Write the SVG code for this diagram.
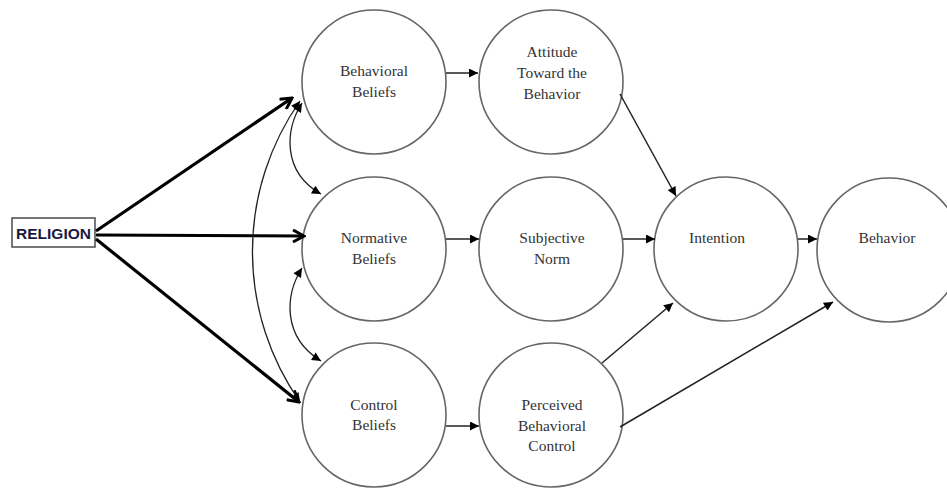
<svg xmlns="http://www.w3.org/2000/svg" width="947" height="489" viewBox="0 0 947 489">
<style>
.c{fill:#fff;stroke:#666;stroke-width:1.6}
.t{font-family:"Liberation Serif","Times New Roman",serif;font-size:15.5px;fill:#333;text-anchor:middle}
.th{stroke:#000;stroke-width:3.2;fill:none;marker-end:url(#open)}
.tn{stroke:#222;stroke-width:1.5;fill:none;marker-end:url(#arr)}
.cv{stroke:#222;stroke-width:1.3;fill:none;marker-start:url(#arr);marker-end:url(#arr)}
</style>
<defs>
<marker id="open" viewBox="0 0 14 14" refX="12" refY="7" markerWidth="14" markerHeight="14" markerUnits="userSpaceOnUse" orient="auto"><path d="M1,1 L12,7 L1,13" fill="none" stroke="#000" stroke-width="3"/></marker>
<marker id="arr" viewBox="0 0 10 10" refX="10" refY="5" markerWidth="11" markerHeight="9" markerUnits="userSpaceOnUse" orient="auto-start-reverse"><path d="M0,0 L10,5 L0,10 z" fill="#000"/></marker>
</defs>
<rect width="947" height="489" fill="#fff"/>
<g id="religion">
<rect x="12" y="218" width="83" height="29" fill="#fff" stroke="#555" stroke-width="1.6"/>
<text x="53.5" y="238.5" font-family="'Liberation Sans',Arial,sans-serif" font-weight="bold" font-size="15px" fill="#1a1a40" text-anchor="middle" textLength="75" lengthAdjust="spacingAndGlyphs">RELIGION</text>
</g>
<g id="behavioral-beliefs"><circle class="c" cx="374" cy="82" r="72"/><text class="t" x="374" y="76">Behavioral</text><text class="t" x="374" y="97">Beliefs</text></g>
<g id="attitude"><circle class="c" cx="551" cy="82" r="72"/><text class="t" x="552" y="57">Attitude</text><text class="t" x="552" y="78">Toward the</text><text class="t" x="552" y="99">Behavior</text></g>
<g id="normative-beliefs"><circle class="c" cx="374" cy="249" r="72"/><text class="t" x="374" y="243">Normative</text><text class="t" x="374" y="264">Beliefs</text></g>
<g id="subjective-norm"><circle class="c" cx="551" cy="249" r="72"/><text class="t" x="552" y="243">Subjective</text><text class="t" x="552" y="264">Norm</text></g>
<g id="control-beliefs"><circle class="c" cx="374" cy="415" r="72"/><text class="t" x="374" y="410">Control</text><text class="t" x="374" y="430">Beliefs</text></g>
<g id="perceived-control"><circle class="c" cx="551" cy="415" r="72"/><text class="t" x="552" y="410">Perceived</text><text class="t" x="552" y="431">Behavioral</text><text class="t" x="552" y="451">Control</text></g>
<g id="intention"><circle class="c" cx="726" cy="249" r="72"/><text class="t" x="717" y="243">Intention</text></g>
<g id="behavior"><circle class="c" cx="889" cy="250" r="72"/><text class="t" x="887" y="243">Behavior</text></g>
<g id="connectors">
<line class="th" x1="96" y1="231" x2="292" y2="98"/>
<line class="th" x1="96" y1="235" x2="304" y2="236"/>
<line class="th" x1="96" y1="239" x2="299" y2="402"/>
<path class="cv" d="M300,101 A262,262 0 0,0 300,402"/>
<path class="cv" d="M302,103 C285,130 282,172 321,194"/>
<path class="cv" d="M302,268 C285,295 282,337 321,361"/>
<line class="tn" x1="446" y1="73" x2="478" y2="73"/>
<line class="tn" x1="446" y1="239" x2="479" y2="239"/>
<line class="tn" x1="623" y1="239" x2="655" y2="239"/>
<line class="tn" x1="798" y1="239" x2="817" y2="239"/>
<line class="tn" x1="446" y1="426" x2="479" y2="426"/>
<line class="tn" x1="620" y1="94" x2="676" y2="196"/>
<line class="tn" x1="602" y1="363" x2="673" y2="303"/>
<line class="tn" x1="620" y1="427" x2="833" y2="302"/>
</g>
</svg>
